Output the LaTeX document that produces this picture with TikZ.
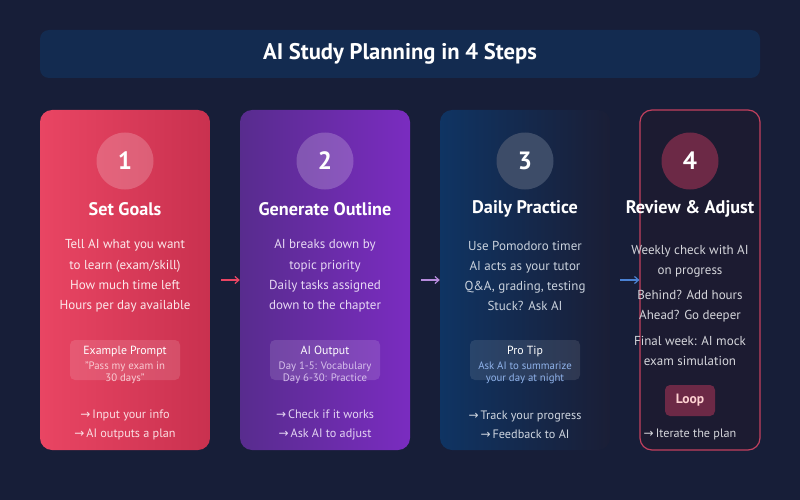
\documentclass[tikz,border=0pt]{standalone}
\usepackage{fontspec}
\setmainfont{PT Sans}
\newfontfamily\arrowfont{DejaVu Sans}
\usetikzlibrary{arrows.meta,positioning}
\definecolor{bgnavy}{HTML}{171E38}
\definecolor{barblue}{HTML}{132B50}
\definecolor{redL}{HTML}{E94563}
\definecolor{redR}{HTML}{C9314F}
\definecolor{purL}{HTML}{582C8E}
\definecolor{purR}{HTML}{7A2CC0}
\definecolor{bluL}{HTML}{0F3463}
\definecolor{bluR}{HTML}{1A1E36}
\definecolor{slate}{HTML}{3D4C68}
\definecolor{maroon}{HTML}{6C2946}
\definecolor{roseline}{HTML}{C2405E}
\definecolor{card4fill}{HTML}{1C1B31}
\definecolor{tipblue}{HTML}{8FB2EA}
\definecolor{arrblue}{HTML}{4A82D4}
\newcommand{\ra}{{\arrowfont\fontsize{12}{12}\selectfont →}\,}

\begin{document}
\begin{tikzpicture}[
  x=1pt, y=-1pt,
  >={Straight Barb[length=4pt,width=7pt]},
  card/.style={rounded corners=12pt, minimum width=170pt, minimum height=340pt, inner sep=0pt},
  num/.style={circle, minimum size=57pt, inner sep=0pt, text=white, font=\bfseries\fontsize{25}{25}\selectfont},
  head/.style={text=white, font=\bfseries\fontsize{18.2}{20}\selectfont},
  body/.style={align=center, font=\fontsize{13}{20.3}\selectfont},
  tipbox/.style={rounded corners=5pt, minimum width=110pt, minimum height=40pt, fill=white, fill opacity=0.13, text opacity=1},
  tiptitle/.style={text=white, font=\fontsize{11.8}{12}\selectfont},
  tiptext/.style={align=center, font=\fontsize{10.8}{11.8}\selectfont},
  foot/.style={align=center, font=\fontsize{12.2}{18.5}\selectfont}
]
\useasboundingbox[fill=bgnavy] (0,0) rectangle (800,500);
% title bar
\node[rounded corners=9pt, fill=barblue, minimum width=720pt, minimum height=48pt] (bar) at (400,54) {};
\node[text=white, font=\bfseries\fontsize{22.6}{24}\selectfont] (title) at (bar) {AI Study Planning in 4 Steps};

% step 1
\node[card, left color=redL, right color=redR] (card1) at (125,280) {};
\node[num, fill=white, fill opacity=0.2, text opacity=1] (num1) at (125,161) {1};
\node[head] (head1) at (125,209) {Set Goals};
\node[body, text=white!88!redL] (body1) at (125,276) {Tell AI what you want\\to learn (exam/skill)\\How much time left\\Hours per day available};
\node[tipbox] (tip1) at (125,360) {};
\node[tiptitle] at (125,351) {Example Prompt};
\node[tiptext, text=white!72!redL] at (125,372.5) {"Pass my exam in\\30 days"};
\node[foot, text=white!82!redL] (foot1) at (125,425) {\ra Input your info\\\ra AI outputs a plan};

% step 2
\node[card, left color=purL, right color=purR] (card2) at (325,280) {};
\node[num, fill=white, fill opacity=0.2, text opacity=1] (num2) at (325,161) {2};
\node[head] (head2) at (325,209) {Generate Outline};
\node[body, text=white!82!purR] (body2) at (325,276) {AI breaks down by\\topic priority\\Daily tasks assigned\\down to the chapter};
\node[tipbox] (tip2) at (325,360) {};
\node[tiptitle] at (325,351) {AI Output};
\node[tiptext, text=white!70!purR] at (325,372.5) {Day 1-5: Vocabulary\\Day 6-30: Practice};
\node[foot, text=white!80!purR] (foot2) at (325,425) {\ra Check if it works\\\ra Ask AI to adjust};

% step 3
\node[card, left color=bluL, right color=bluR] (card3) at (525,280) {};
\node[num, fill=slate] (num3) at (525,161) {3};
\node[head] (head3) at (525,209) {Daily Practice};
\node[body, text=white!78!bluL] (body3) at (525,276) {Use Pomodoro timer\\AI acts as your tutor\\Q\&A, grading, testing\\Stuck? Ask AI};
\node[tipbox, fill opacity=0.1] (tip3) at (525,360) {};
\node[tiptitle] at (525,351) {Pro Tip};
\node[tiptext, text=tipblue] at (525,372.5) {Ask AI to summarize\\your day at night};
\node[foot, text=white!80!bluL] (foot3) at (525,425) {\ra Track your progress\\\ra Feedback to AI};

% step 4
\node[card, minimum width=120pt, draw=roseline, line width=1.2pt, fill=card4fill] (card4) at (700,280) {};
\node[num, fill=maroon] (num4) at (690,161) {4};
\node[head] (head4) at (690,209) {Review \& Adjust};
\node[body, text=white!82!bgnavy] (body4a) at (690,261) {Weekly check with AI\\on progress};
\node[body, text=white!82!bgnavy] (body4b) at (690,306) {Behind? Add hours\\Ahead? Go deeper};
\node[body, text=white!82!bgnavy] (body4c) at (690,351) {Final week: AI mock\\exam simulation};
\node[rounded corners=5pt, fill=maroon, minimum width=50pt, minimum height=31pt, text=pink!70!white, font=\bfseries\fontsize{13.5}{14}\selectfont] (loop) at (690,400.5) {Loop};
\node[foot, text=white!82!bgnavy] (foot4) at (690,434) {\ra Iterate the plan};

% connectors
\draw[->, line width=1.2pt, draw=redL, shorten <=11pt] (card1.east) -- (card2.west);
\draw[->, line width=1.2pt, draw=purR!55!white, shorten <=11pt] (card2.east) -- (card3.west);
\draw[->, line width=1.2pt, draw=arrblue, shorten <=10pt] (card3.east) -- (card4.west);
\end{tikzpicture}
\end{document}
